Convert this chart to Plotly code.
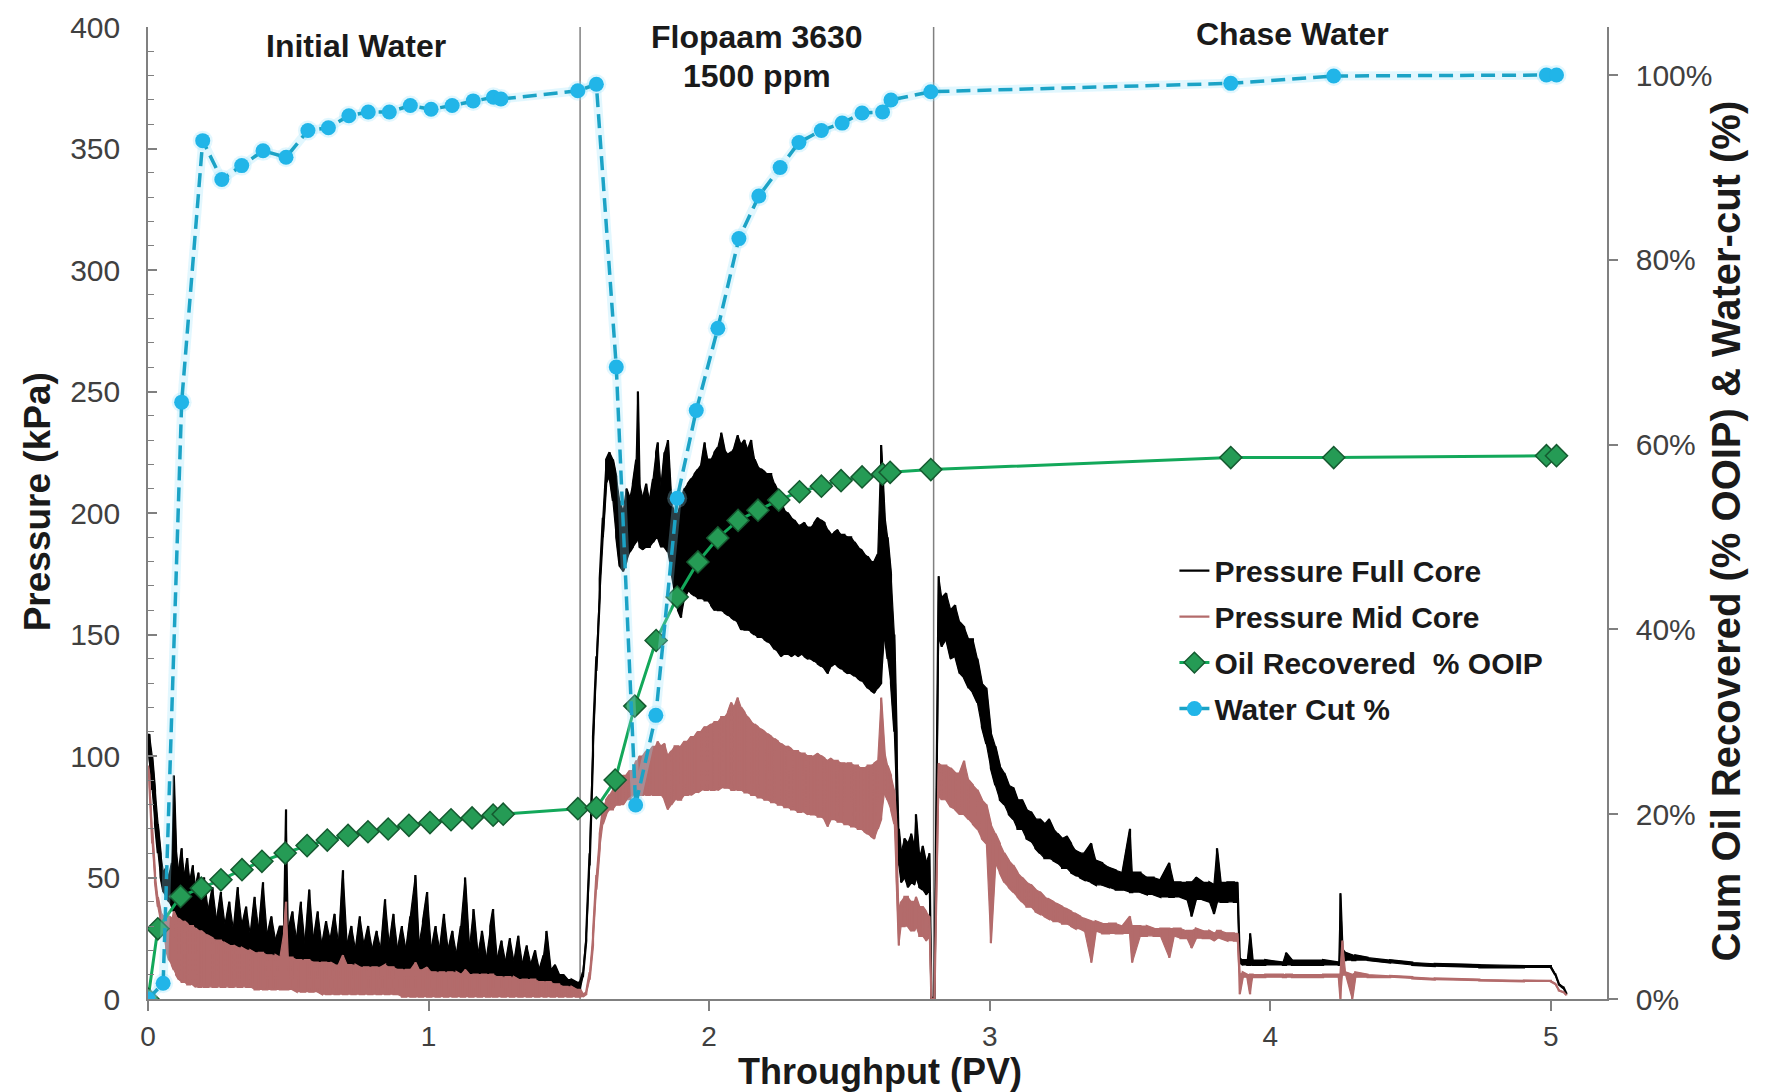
import plotly.graph_objects as go

# ---------------- data ----------------
phase_bounds = [1.54, 2.80]          # PV where injection fluid changes

# Pressure traces are very noisy; at each sampled throughput the trace's
# lower and upper extent (kPa) was read off the picture.

# --- initial water flood ---
pv_iw = [0.000, 0.005, 0.015, 0.025, 0.035, 0.045, 0.055, 0.065, 0.075, 0.085,
         0.092, 0.100, 0.110, 0.120, 0.130, 0.140, 0.150, 0.160, 0.170, 0.180,
         0.190, 0.200, 0.215, 0.230, 0.245, 0.260, 0.275, 0.290, 0.305, 0.320,
         0.335, 0.350, 0.365, 0.380, 0.395, 0.410, 0.425, 0.440, 0.455, 0.470,
         0.485, 0.492, 0.500, 0.515, 0.530, 0.545, 0.560, 0.575, 0.590, 0.605,
         0.620, 0.635, 0.650, 0.665, 0.680, 0.695, 0.710, 0.725, 0.740, 0.755,
         0.770, 0.785, 0.800, 0.815, 0.830, 0.845, 0.860, 0.875, 0.890, 0.905,
         0.920, 0.935, 0.953, 0.965, 0.980, 0.995, 1.010, 1.025, 1.040, 1.055,
         1.070, 1.085, 1.100, 1.115, 1.130, 1.145, 1.160, 1.175, 1.190, 1.205,
         1.220, 1.230, 1.245, 1.260, 1.275, 1.290, 1.305, 1.320, 1.335, 1.350,
         1.365, 1.380, 1.395, 1.410, 1.420, 1.435, 1.450, 1.465, 1.480, 1.495,
         1.510, 1.525, 1.540]
full_hi_iw = [108, 109, 100, 86, 72, 60, 52, 54, 50, 56,
              92, 62, 52, 62, 50, 58, 48, 55, 46, 52,
              40, 50, 36, 46, 32, 44, 30, 40, 28, 46,
              30, 38, 26, 42, 28, 48, 26, 34, 24, 30,
              30, 78, 28, 36, 24, 40, 22, 45, 24, 36,
              22, 32, 24, 35, 22, 53, 22, 30, 20, 34,
              22, 30, 20, 28, 20, 41, 22, 35, 20, 30,
              20, 34, 51, 22, 32, 44, 20, 30, 20, 35,
              20, 28, 18, 30, 50, 20, 37, 18, 28, 16,
              30, 37, 16, 24, 15, 25, 15, 26, 14, 22,
              14, 20, 12, 18, 28, 12, 14, 10, 10, 8,
              8, 7, 7]
full_lo_iw = [104, 100, 86, 72, 60, 50, 44, 42, 40, 38,
              36, 34, 32, 30, 30, 28, 28, 26, 26, 24,
              24, 22, 22, 20, 20, 19, 18, 18, 17, 17,
              16, 16, 15, 15, 15, 14, 14, 14, 13, 13,
              13, 13, 13, 13, 12, 12, 12, 12, 12, 12,
              12, 11, 11, 11, 11, 11, 11, 10, 10, 10,
              10, 10, 10, 10, 10, 10, 10, 10, 10, 10,
              10, 10, 10, 10, 10, 10, 9, 9, 9, 9,
              9, 9, 9, 9, 9, 9, 8, 8, 8, 8,
              8, 8, 8, 7, 7, 7, 7, 7, 7, 7,
              6, 6, 6, 6, 6, 5, 5, 5, 5, 4,
              4, 4, 4]
mid_hi_iw = [96, 92, 70, 52, 42, 36, 34, 34, 34, 33,
             36, 34, 33, 32, 32, 31, 30, 30, 29, 28,
             28, 27, 26, 25, 24, 24, 23, 22, 22, 21,
             21, 20, 20, 19, 19, 19, 18, 18, 18, 17,
             28, 40, 17, 17, 16, 16, 16, 16, 15, 15,
             15, 15, 15, 14, 14, 18, 14, 14, 14, 13,
             13, 13, 13, 13, 13, 14, 13, 13, 12, 12,
             12, 12, 15, 12, 12, 13, 11, 11, 11, 11,
             11, 11, 11, 10, 12, 10, 10, 10, 10, 10,
             10, 10, 9, 9, 9, 9, 9, 8, 8, 8,
             8, 8, 7, 7, 7, 7, 6, 6, 5, 5,
             5, 4, 4]
mid_lo_iw = [94, 88, 64, 48, 38, 32, 28, 20, 16, 14,
             12, 10, 8, 7, 7, 6, 6, 6, 5, 5,
             5, 5, 5, 5, 5, 5, 5, 5, 5, 5,
             5, 5, 5, 4, 4, 4, 4, 4, 4, 4,
             4, 4, 4, 4, 3, 3, 3, 3, 3, 3,
             2, 2, 2, 2, 2, 2, 2, 2, 2, 2,
             2, 2, 2, 2, 2, 2, 2, 2, 2, 1,
             1, 1, 1, 1, 1, 1, 1, 1, 1, 1,
             1, 1, 1, 1, 1, 1, 1, 1, 1, 1,
             1, 1, 1, 1, 1, 1, 1, 1, 1, 1,
             1, 1, 1, 1, 1, 1, 1, 1, 1, 1,
             1, 1, 1]

# --- polymer flood (Flopaam 3630, 1500 ppm) ---
pv_pf = [1.550, 1.562, 1.574, 1.586, 1.598, 1.610, 1.621, 1.633, 1.645, 1.657,
         1.669, 1.681, 1.693, 1.705, 1.717, 1.728, 1.740, 1.746, 1.752, 1.764,
         1.776, 1.788, 1.800, 1.811, 1.817, 1.829, 1.841, 1.853, 1.865, 1.877,
         1.889, 1.900, 1.912, 1.924, 1.936, 1.948, 1.960, 1.972, 1.984, 1.995,
         2.007, 2.019, 2.031, 2.043, 2.055, 2.067, 2.079, 2.090, 2.102, 2.114,
         2.126, 2.138, 2.150, 2.162, 2.173, 2.185, 2.197, 2.209, 2.221, 2.233,
         2.245, 2.257, 2.268, 2.280, 2.292, 2.304, 2.316, 2.328, 2.340, 2.352,
         2.363, 2.375, 2.387, 2.399, 2.411, 2.423, 2.435, 2.446, 2.458, 2.470,
         2.482, 2.494, 2.506, 2.518, 2.530, 2.541, 2.553, 2.565, 2.577, 2.589,
         2.601, 2.613, 2.625, 2.636, 2.648, 2.660, 2.668, 2.676, 2.684, 2.696,
         2.708, 2.720, 2.731, 2.737, 2.749, 2.761, 2.773, 2.785, 2.792, 2.803]
full_hi_pf = [11, 27, 60, 108, 141, 173, 198, 222, 225, 222,
              215, 205, 200, 210, 206, 212, 222, 250, 212, 206,
              212, 205, 214, 225, 229, 210, 225, 230, 205, 200,
              200, 206, 210, 212, 214, 216, 218, 220, 229, 222,
              222, 225, 227, 233, 226, 224, 225, 227, 232, 228,
              230, 226, 230, 222, 219, 218, 217, 216, 216, 212,
              209, 204, 201, 200, 198, 197, 195, 195, 196, 194,
              194, 196, 198, 197, 196, 193, 191, 192, 193, 191,
              191, 190, 190, 188, 186, 185, 183, 182, 180, 180,
              183, 228, 200, 190, 175, 150, 110, 70, 60, 66,
              64, 68, 62, 76, 58, 63, 56, 60, 1, 0]
full_lo_pf = [9, 24, 55, 100, 135, 165, 190, 212, 215, 205,
              190, 178, 176, 180, 184, 186, 188, 190, 186, 185,
              186, 186, 188, 190, 190, 186, 186, 184, 176, 168,
              160, 157, 165, 168, 167, 166, 165, 165, 164, 164,
              162, 160, 160, 160, 159, 158, 157, 156, 155, 152,
              152, 152, 151, 150, 149, 149, 148, 147, 146, 144,
              143, 141, 142, 142, 141, 142, 141, 142, 141, 140,
              140, 139, 138, 137, 136, 134, 137, 138, 137, 136,
              135, 134, 134, 133, 132, 131, 130, 128, 127, 126,
              128, 130, 150, 140, 130, 110, 85, 55, 48, 50,
              46, 48, 47, 50, 46, 45, 43, 45, 0, 0]
mid_hi_pf = [2, 3, 11, 27, 51, 68, 78, 82, 84, 86,
             88, 90, 92, 92, 94, 94, 98, 98, 100, 100,
             102, 102, 104, 104, 106, 104, 105, 100, 102, 104,
             104, 104, 106, 106, 108, 108, 110, 110, 112, 112,
             113, 114, 114, 116, 116, 118, 122, 120, 124, 120,
             118, 116, 114, 113, 112, 111, 110, 109, 108, 107,
             106, 105, 104, 104, 103, 102, 102, 101, 101, 100,
             100, 100, 101, 100, 99, 98, 99, 98, 98, 97,
             97, 97, 97, 96, 96, 95, 95, 96, 96, 97,
             98, 124, 102, 96, 92, 86, 70, 36, 40, 42,
             42, 40, 40, 42, 38, 38, 36, 34, 0, 0]
mid_lo_pf = [1, 2, 8, 22, 45, 62, 72, 76, 78, 78,
             80, 80, 80, 82, 82, 84, 84, 84, 84, 84,
             84, 84, 84, 84, 84, 84, 82, 78, 80, 82,
             82, 82, 84, 84, 84, 85, 85, 86, 86, 86,
             86, 86, 86, 87, 87, 87, 86, 86, 86, 86,
             85, 85, 84, 84, 83, 83, 82, 82, 81, 81,
             80, 80, 79, 79, 78, 78, 77, 77, 77, 76,
             76, 76, 75, 75, 74, 71, 74, 74, 73, 73,
             72, 72, 71, 71, 70, 70, 69, 68, 67, 66,
             70, 74, 85, 82, 78, 72, 50, 22, 30, 30,
             30, 28, 28, 30, 26, 26, 24, 26, 0, 0]

# --- chase water ---
pv_cw = [2.818, 2.829, 2.845, 2.861, 2.877, 2.893, 2.909, 2.925, 2.940, 2.956,
         2.972, 2.988, 3.004, 3.020, 3.036, 3.052, 3.068, 3.084, 3.099, 3.115,
         3.131, 3.147, 3.163, 3.179, 3.195, 3.211, 3.227, 3.242, 3.258, 3.274,
         3.290, 3.306, 3.322, 3.338, 3.362, 3.378, 3.401, 3.425, 3.449, 3.473,
         3.500, 3.508, 3.537, 3.560, 3.584, 3.608, 3.640, 3.656, 3.680, 3.703,
         3.719, 3.735, 3.759, 3.783, 3.799, 3.810, 3.823, 3.847, 3.870, 3.883,
         3.891, 3.902, 3.918, 3.928, 3.937, 3.982, 4.045, 4.056, 4.077, 4.188,
         4.244, 4.250, 4.257, 4.268, 4.292, 4.303, 4.347, 4.427, 4.506, 4.586,
         4.745, 4.904, 5.000, 5.015, 5.028, 5.044, 5.055]
full_hi_cw = [174, 165, 167, 160, 162, 155, 153, 148, 148, 140,
              130, 128, 110, 104, 96, 93, 88, 87, 82, 82,
              78, 77, 74, 74, 72, 74, 70, 68, 66, 67,
              64, 61, 60, 60, 64, 57, 56, 54, 53, 52,
              70, 52, 52, 50, 50, 49, 56, 48, 48, 48,
              48, 50, 48, 48, 47, 62, 48, 48, 48, 48,
              17, 16, 16, 27, 16, 16, 15, 19, 16, 16,
              15, 43.5, 21, 19, 18, 18, 17, 16, 15, 14.5,
              14, 13.5, 13.5, 10.5, 6.4, 5, 2.4]
full_lo_cw = [150, 145, 148, 140, 141, 134, 132, 128, 126, 122,
              112, 105, 95, 88, 82, 80, 76, 74, 70, 70,
              66, 65, 62, 60, 58, 58, 57, 56, 54, 54,
              52, 51, 50, 49, 48, 47, 47, 46, 45, 45,
              44, 44, 44, 43, 43, 42, 42, 42, 42, 41,
              34, 41, 41, 40, 35, 40, 40, 40, 40, 40,
              15, 14, 14, 14, 14, 14, 14, 14, 14, 14,
              14, 14, 16, 16, 16, 16, 16, 15, 14, 13.5,
              13, 13, 13, 10, 6, 4.5, 2]
mid_hi_cw = [97, 96, 96, 95, 93, 93, 98, 90, 88, 86,
             82, 80, 72, 68, 64, 60, 57, 55, 52, 50,
             48, 47, 45, 44, 42, 41, 40, 39, 38, 37,
             36, 35, 34, 33, 32, 32, 31, 31, 31, 30,
             34, 30, 30, 30, 29, 29, 29, 29, 29, 28,
             28, 29, 28, 28, 27, 28, 28, 27, 27, 27,
             10, 11, 10, 10, 10, 10, 10, 10, 10, 10,
             10, 10, 24, 11, 10, 11, 10, 9.5, 9, 8.5,
             8, 7.6, 7.5, 6.5, 3.8, 3, 1.6]
mid_lo_cw = [84, 82, 82, 79, 78, 76, 76, 74, 72, 70,
             66, 64, 23, 56, 52, 48, 46, 44, 42, 40,
             38, 38, 36, 35, 34, 33, 32, 32, 31, 31,
             30, 29, 29, 28, 15, 28, 27, 27, 27, 27,
             27, 15, 26, 26, 26, 26, 17, 26, 25, 25,
             21, 25, 25, 25, 24, 25, 25, 24, 24, 24,
             2, 9, 9, 2, 9, 9, 9, 9, 9, 9,
             9, 0, 10, 10, 0, 9, 9, 9, 8.5, 8,
             7.6, 7.3, 7.2, 6.2, 3.5, 2.8, 1.5]

# Water cut (%)
wc_pv = [0.0, 0.054, 0.12, 0.195, 0.263, 0.334, 0.41, 0.492, 0.57, 0.643,
         0.716, 0.785, 0.86, 0.935, 1.009, 1.084, 1.159, 1.231, 1.258, 1.532,
         1.598, 1.669, 1.738, 1.81, 1.886, 1.954, 2.031, 2.106, 2.177, 2.253,
         2.32, 2.4, 2.474, 2.545, 2.618, 2.648, 2.79, 3.859, 4.226, 4.984,
         5.02]
water_cut = [0, 1.7, 64.6, 92.9, 88.7, 90.2, 91.8, 91.1, 94.0, 94.3,
             95.6, 96.0, 96.0, 96.7, 96.3, 96.7, 97.2, 97.6, 97.4, 98.3,
             99.0, 68.4, 21.0, 30.7, 54.2, 63.7, 72.6, 82.3, 86.9, 90.0,
             92.7, 94.0, 94.8, 95.9, 96.0, 97.3, 98.2, 99.1, 99.9, 100.0,
             100.0]

# Cumulative oil recovered (% OOIP)
oil_pv = [0.0, 0.035, 0.116, 0.19, 0.26, 0.335, 0.406, 0.489, 0.567, 0.639,
          0.713, 0.784, 0.856, 0.93, 1.005, 1.08, 1.155, 1.23, 1.266, 1.532,
          1.598, 1.665, 1.735, 1.811, 1.886, 1.96, 2.031, 2.103, 2.174, 2.248,
          2.322, 2.4, 2.47, 2.545, 2.618, 2.645, 2.79, 3.859, 4.226, 4.984,
          5.02]
oil_recovered = [0, 7.6, 11.1, 12.0, 12.9, 14.0, 14.9, 15.8, 16.6, 17.2,
                 17.7, 18.1, 18.4, 18.8, 19.1, 19.4, 19.6, 19.9, 20.0, 20.6,
                 20.7, 23.7, 31.7, 38.8, 43.5, 47.3, 49.9, 51.8, 52.9, 54.0,
                 54.9, 55.5, 56.1, 56.5, 56.8, 57.0, 57.3, 58.6, 58.6, 58.8,
                 58.8]

left_ticks = [0, 50, 100, 150, 200, 250, 300, 350, 400]
right_ticks = [0, 20, 40, 60, 80, 100]
x_ticks = [0, 1, 2, 3, 4, 5]


# Each noisy record: the pen covers the span between its lower and upper
# reading at every sample (drawn as the swept band plus the pen strokes).
def noisy_path(pv, lo, hi):
    xs, ys = [], []
    for i, (x, a, b) in enumerate(zip(pv, lo, hi)):
        first, second = (a, b) if i % 2 == 0 else (b, a)
        xs += [x, x]
        ys += [first, second]
    return xs, ys


def band(pv, lo, hi):
    return list(pv) + list(pv)[::-1], list(hi) + list(lo)[::-1]


pv_all = pv_iw + pv_pf + pv_cw
full_lo = full_lo_iw + full_lo_pf + full_lo_cw
full_hi = full_hi_iw + full_hi_pf + full_hi_cw
mid_lo = mid_lo_iw + mid_lo_pf + mid_lo_cw
mid_hi = mid_hi_iw + mid_hi_pf + mid_hi_cw

# ---------------- figure ----------------
FONT = "Liberation Sans, Arial, sans-serif"
TXT = "#1a1a1a"
AX = "#808080"
FULL_C = "#000000"
MID_C = "#B36B6B"

fig = go.Figure()
for lo, hi, col, nm, grp in [(full_lo, full_hi, FULL_C, "Pressure Full Core", "a"),
                              (mid_lo, mid_hi, MID_C, "Pressure Mid Core", "b")]:
    bx, by = band(pv_all, lo, hi)
    fig.add_trace(go.Scatter(x=bx, y=by, mode="lines", fill="toself", fillcolor=col,
                             line=dict(color=col, width=1.2), showlegend=False,
                             hoverinfo="skip", legendgroup=grp))
    px_, py_ = noisy_path(pv_all, lo, hi)
    fig.add_trace(go.Scatter(x=px_, y=py_, mode="lines", name=nm, legendgroup=grp,
                             line=dict(color=col, width=2.2)))

fig.add_trace(go.Scatter(x=oil_pv, y=oil_recovered, yaxis="y2", mode="lines+markers",
                         name="Oil Recovered \u00a0% OOIP", legendgroup="c",
                         line=dict(color="#13A85A", width=3),
                         marker=dict(symbol="diamond", size=17, color="#259B55",
                                     line=dict(color="#155A30", width=1.5))))
fig.add_trace(go.Scatter(x=wc_pv, y=water_cut, yaxis="y2", mode="lines+markers",
                         showlegend=False, hoverinfo="skip", legendgroup="d",
                         line=dict(color="rgba(150,225,250,0.28)", width=9),
                         marker=dict(size=20, color="rgba(150,225,250,0.28)")))
fig.add_trace(go.Scatter(x=wc_pv, y=water_cut, yaxis="y2", mode="lines+markers",
                         name="Water Cut %", legendgroup="d",
                         line=dict(color="#1BA3C6", width=3.5, dash="14px,7px"),
                         marker=dict(symbol="circle", size=15, color="#21B5E8")))

for b in phase_bounds:
    fig.add_vline(x=b, line=dict(color=AX, width=1.5), layer="below")

ann_font = dict(family=FONT, size=32, color=TXT, weight="bold")
fig.add_annotation(x=0.74, y=0.980, xref="x", yref="paper", text="Initial Water",
                   showarrow=False, font=ann_font, yanchor="middle")
fig.add_annotation(x=2.17, y=0.990, xref="x", yref="paper", text="Flopaam 3630",
                   showarrow=False, font=ann_font, yanchor="middle")
fig.add_annotation(x=2.17, y=0.950, xref="x", yref="paper", text="1500 ppm",
                   showarrow=False, font=ann_font, yanchor="middle")
fig.add_annotation(x=4.078, y=0.993, xref="x", yref="paper", text="Chase Water",
                   showarrow=False, font=ann_font, yanchor="middle")

# axis titles
title_font = dict(family=FONT, color=TXT, weight="bold")
fig.add_annotation(x=0.502, y=-0.0741, xref="paper", yref="paper", text="Throughput (PV)",
                   showarrow=False, xanchor="center", yanchor="middle",
                   font=dict(size=36, **title_font))
fig.add_annotation(x=-0.0761, y=0.512, xref="paper", yref="paper", text="Pressure (kPa)",
                   showarrow=False, textangle=-90, xanchor="center", yanchor="middle",
                   font=dict(size=37, **title_font))
fig.add_annotation(x=1.0813, y=0.4815, xref="paper", yref="paper",
                   text="Cum Oil Recovered (% OOIP) & Water-cut (%)",
                   showarrow=False, textangle=-90, xanchor="center", yanchor="middle",
                   font=dict(size=40, **title_font))

tick_font = dict(family=FONT, size=30, color="#404040")
fig.update_layout(
    width=1766, height=1092,
    margin=dict(l=148, r=159, t=27, b=93),
    plot_bgcolor="white", paper_bgcolor="white",
    font=dict(family=FONT, color="#404040"),
    legend=dict(x=0.7035, y=0.4675, xanchor="left", yanchor="top",
                bgcolor="rgba(255,255,255,0)", tracegroupgap=4,
                font=dict(family=FONT, size=30, color=TXT, weight="bold")),
    xaxis=dict(range=[0, 5.2], tickvals=x_ticks, ticks="outside", ticklen=10,
               tickwidth=1.5, tickcolor=AX, showline=True, linecolor=AX, linewidth=1.5,
               showgrid=False, zeroline=False, automargin=False,
               tickfont=dict(family=FONT, size=28, color="#404040"), ticklabelstandoff=2),
    yaxis=dict(range=[0, 400], tickvals=left_ticks, ticks="inside", ticklen=9,
               tickwidth=1.5, tickcolor=AX, showline=True, linecolor=AX, linewidth=1.5,
               showgrid=False, zeroline=False, automargin=False, tickfont=tick_font,
               minor=dict(dtick=10, ticks="inside", ticklen=6, tickcolor=AX, tickwidth=1.2),
               ticklabelstandoff=20),
    yaxis2=dict(range=[0, 105.2], overlaying="y", side="right", tickvals=right_ticks,
                ticktext=[f"{v}%" for v in right_ticks],
                ticks="outside", ticklen=9, tickwidth=1.5, tickcolor=AX,
                showline=True, linecolor=AX, linewidth=1.5, showgrid=False, zeroline=False,
                automargin=False, tickfont=tick_font, ticklabelstandoff=12),
)

fig.write_html("out.html",
               config={"displayModeBar": False},
               post_script="document.body.style.margin='0px';"
                           "document.body.style.overflow='hidden';")
